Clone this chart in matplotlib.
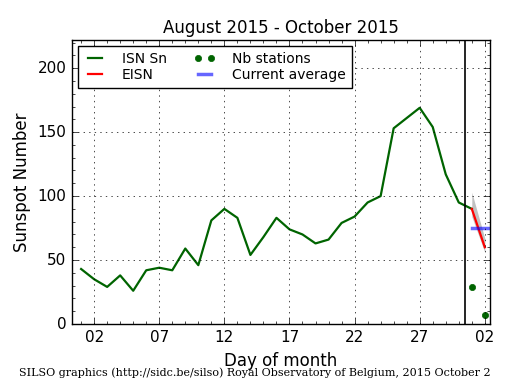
import numpy as np
import matplotlib
matplotlib.use('Agg')
import matplotlib.pyplot as plt
from matplotlib.ticker import MultipleLocator

plt.style.use('classic')

# day index: 1 = Sep 1 ... 31 = Oct 1, 32 = Oct 2
days = np.arange(1, 32)
isn = [43, 35, 29, 38, 26, 42, 44, 42, 59, 46, 81, 90, 83, 54, 68, 83,
       74, 70, 63, 66, 79, 84, 95, 100, 153, 161, 169, 154, 117, 95, 90]

eisn_days = [31, 32]
eisn = [90, 60]
eisn_low = [84, 56]
eisn_high = [103, 67]

nb_days = [31, 32]
nb_stations = [29, 7]

avg_days = [31, 32.4]
current_avg = [75, 75]

cut_day = 30.5
tick_days = [2, 7, 12, 17, 22, 27, 32]
tick_labels = ['02', '07', '12', '17', '22', '27', '02']

fig = plt.figure(figsize=(5.15, 3.9), dpi=100, facecolor='white')
ax = fig.add_axes([0.1398, 0.1692, 0.8117, 0.7282])

ax.fill_between(eisn_days, eisn_low, eisn_high, color='0.6', alpha=0.6, lw=0)
ax.plot(days, isn, color='darkgreen', lw=1.6, label='ISN Sn')
ax.plot(eisn_days, eisn, color='red', lw=1.6, label='EISN')
ax.plot(nb_days, nb_stations, 'o', color='darkgreen', ms=4.5, mec='darkgreen',
        label='Nb stations')
ax.plot(avg_days, current_avg, color='blue', alpha=0.6, lw=2.5, label='Current average')
ax.axvline(cut_day, color='black', lw=1.2)

ax.set_xlim(0.3, 32.4)
ax.set_ylim(0, 222)
ax.set_xticks(tick_days)
ax.set_xticklabels(tick_labels)
ax.xaxis.set_minor_locator(MultipleLocator(1))
ax.yaxis.set_major_locator(MultipleLocator(50))
ax.yaxis.set_minor_locator(MultipleLocator(10))
ax.tick_params(labelsize=11)
ax.grid(True, which='major')

ax.set_title('August 2015 - October 2015', fontsize=12)
ax.set_xlabel('Day of month', fontsize=12)
ax.set_ylabel('Sunspot Number', fontsize=12)

ax.legend(loc='upper left', ncol=2, fontsize=10, numpoints=2,
          handlelength=1.6, handletextpad=1.15, columnspacing=1.9,
          labelspacing=0.15, borderpad=0.45, borderaxespad=0.4)

fig.text(0.495, 0.035, 'SILSO graphics (http://sidc.be/silso) Royal Observatory of Belgium, 2015 October 2',
         ha='center', fontsize=8, family='DejaVu Serif')

fig.savefig('out.png', dpi=100, facecolor='white')
